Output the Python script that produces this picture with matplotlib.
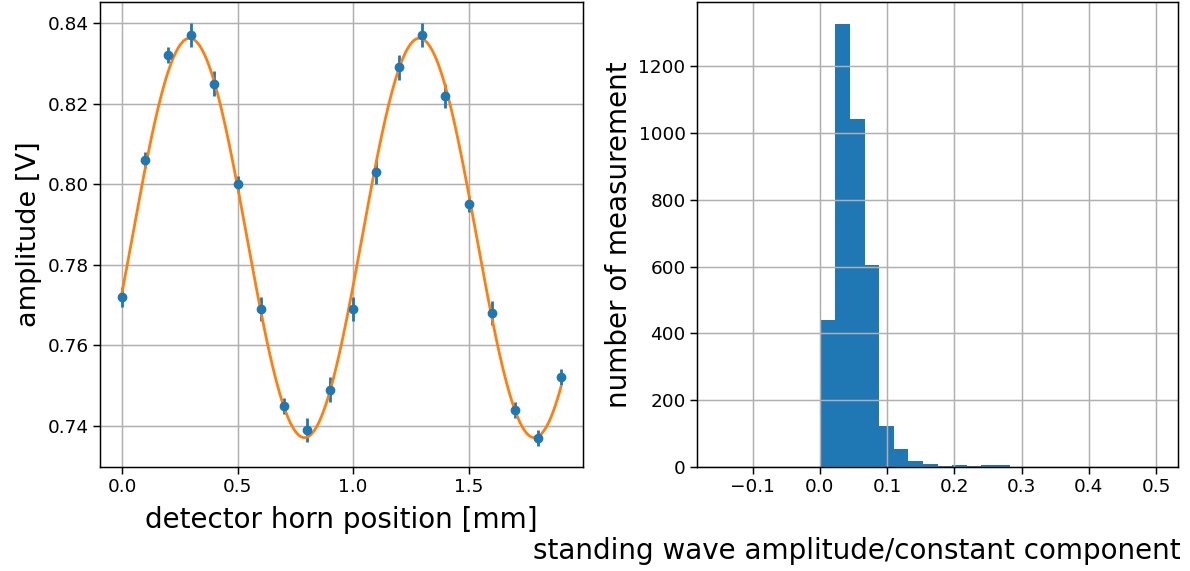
import numpy as np
import matplotlib
matplotlib.use("Agg")
import matplotlib.pyplot as plt

# standing wave scan
position = [0.0, 0.1, 0.2, 0.3, 0.4, 0.5, 0.6, 0.7, 0.8, 0.9,
            1.0, 1.1, 1.2, 1.3, 1.4, 1.5, 1.6, 1.7, 1.8, 1.9]
amplitude = [0.772, 0.806, 0.832, 0.837, 0.825, 0.800, 0.769, 0.745, 0.739, 0.749,
             0.769, 0.803, 0.829, 0.837, 0.822, 0.795, 0.768, 0.744, 0.737, 0.752]
amp_err = [0.0025, 0.002, 0.002, 0.003, 0.003, 0.002, 0.003, 0.002, 0.003, 0.003,
           0.003, 0.003, 0.003, 0.003, 0.003, 0.002, 0.003, 0.002, 0.002, 0.002]

# histogram of ratio
hist_range = (-0.15, 0.5)
n_bins = 30
counts = [1, 0, 0, 0, 0, 0, 0, 440, 1326, 1043,
          604, 124, 55, 19, 10, 4, 7, 2, 5, 5,
          1, 1, 0, 1, 0, 0, 0, 0, 0, 1]

plt.rcParams.update({
    "axes.linewidth": 1.07,
    "grid.linewidth": 1.07,
    "xtick.major.size": 4.7,
    "ytick.major.size": 4.7,
    "xtick.major.width": 1.07,
    "ytick.major.width": 1.07,
    "lines.linewidth": 2.0,
})

x = np.array(position)
y = np.array(amplitude)

# sine fit: c + A sin(kx) + B cos(kx), scan k
best = None
for k in np.linspace(5.0, 7.5, 2501):
    M = np.column_stack([np.ones_like(x), np.sin(k * x), np.cos(k * x)])
    coef, res, _, _ = np.linalg.lstsq(M, y, rcond=None)
    r = np.sum((M @ coef - y) ** 2)
    if best is None or r < best[0]:
        best = (r, k, coef)
_, k_fit, c_fit = best
xf = np.linspace(x.min(), x.max(), 400)
yf = c_fit[0] + c_fit[1] * np.sin(k_fit * xf) + c_fit[2] * np.cos(k_fit * xf)

fig = plt.figure(figsize=(11.9, 5.71), dpi=100)
ax1 = fig.add_axes([100 / 1190, 104 / 571, 483 / 1190, 465 / 571])
ax2 = fig.add_axes([697 / 1190, 104 / 571, 481 / 1190, 465 / 571])

ax1.errorbar(x, y, yerr=amp_err, fmt='o', color='tab:blue', markersize=6)
ax1.plot(xf, yf, color='tab:orange')
ax1.set_xlabel("detector horn position [mm]", fontsize=20, labelpad=7)
ax1.set_ylabel("amplitude [V]", fontsize=19.5)
ax1.set_yticks([0.74, 0.76, 0.78, 0.80, 0.82, 0.84])
ax1.set_xticks([0.0, 0.5, 1.0, 1.5])
ax1.tick_params(labelsize=13.3)
ax1.grid(True)

edges = np.linspace(hist_range[0], hist_range[1], n_bins + 1)
centers = (edges[:-1] + edges[1:]) / 2
ax2.hist(centers, bins=edges, weights=counts, color='tab:blue')
ax2.set_ylabel("number of measurement", fontsize=20)
ax2.set_xlabel("standing wave amplitude/constant component", fontsize=20, ha='right')
ax2.xaxis.set_label_coords(1.005, -0.15)
ax2.set_xticks([-0.1, 0.0, 0.1, 0.2, 0.3, 0.4, 0.5])
ax2.tick_params(labelsize=13.3)
ax2.grid(True)

fig.savefig("out.png")
